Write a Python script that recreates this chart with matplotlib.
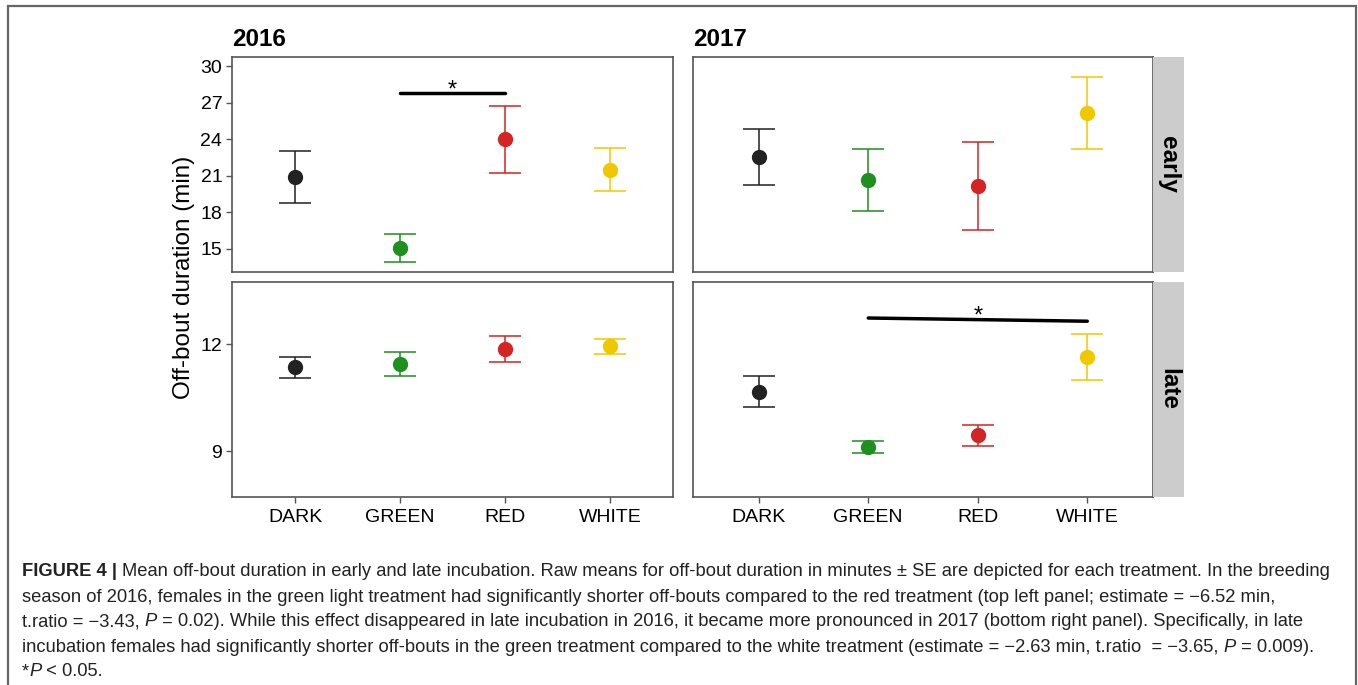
"""Mean off-bout duration per light treatment, early vs late incubation, 2016 / 2017."""

import matplotlib
matplotlib.use("Agg")
import matplotlib.pyplot as plt
from matplotlib.patches import Rectangle
from matplotlib.text import Annotation

W, H = 1358, 685
plt.rcParams["font.family"] = ["Liberation Sans", "DejaVu Sans"]

# ------------------------------------------------------------------
# Data (raw means +- SE)
# ------------------------------------------------------------------
treatments = ["DARK", "GREEN", "RED", "WHITE"]
colors = ["#222222", "#1f8f1f", "#d42424", "#f0c800"]

early_2016_mean = [20.93, 15.03, 24.02, 21.48]
early_2016_low = [18.74, 13.88, 21.26, 19.75]
early_2016_high = [23.06, 16.23, 26.72, 23.28]

early_2017_mean = [22.54, 20.66, 20.19, 26.12]
early_2017_low = [20.27, 18.14, 16.56, 23.20]
early_2017_high = [24.81, 23.20, 23.80, 29.07]

late_2016_mean = [11.35, 11.44, 11.86, 11.94]
late_2016_low = [11.05, 11.11, 11.50, 11.72]
late_2016_high = [11.64, 11.77, 12.22, 12.14]

late_2017_mean = [10.66, 9.11, 9.44, 11.64]
late_2017_low = [10.23, 8.94, 9.14, 11.00]
late_2017_high = [11.09, 9.29, 9.73, 12.29]

# significance bars: (x from, x to, y from, y to)
sig_early_2016 = ("GREEN", "RED", 27.76, 27.76)
sig_late_2017 = ("GREEN", "WHITE", 12.73, 12.64)

early_ticks = [15, 18, 21, 24, 27, 30]
late_ticks = [9, 12]

caption_lines = [
    [("FIGURE 4 | ", "bold"),
     ("Mean off-bout duration in early and late incubation. Raw means for off-bout duration "
      "in minutes \u00b1 SE are depicted for each treatment. In the breeding", "normal")],
    [("season of 2016, females in the green light treatment had significantly shorter off-bouts "
      "compared to the red treatment (top left panel; estimate = \u22126.52 min,", "normal")],
    [("t.ratio = \u22123.43, ", "normal"), ("P", "italic"),
     (" = 0.02). While this effect disappeared in late incubation in 2016, it became more "
      "pronounced in 2017 (bottom right panel). Specifically, in late", "normal")],
    [("incubation females had significantly shorter off-bouts in the green treatment compared "
      "to the white treatment (estimate = \u22122.63 min, t.ratio  = \u22123.65, ", "normal"),
     ("P", "italic"), (" = 0.009).", "normal")],
    [("*", "normal"), ("P", "italic"), (" < 0.05.", "normal")],
]

# ------------------------------------------------------------------
# Plot
# ------------------------------------------------------------------
fig = plt.figure(figsize=(W / 100, H / 100), dpi=100)

# outer frame of the figure (bottom edge runs off the page)
fig.patches.append(Rectangle((8 / W, -0.1), (1356 - 8) / W, 1.1 - 6 / H,
                             transform=fig.transFigure, fill=False,
                             edgecolor="#666666", linewidth=1.6))


def px_axes(x0, y0, x1, y1):
    return fig.add_axes([x0 / W, 1 - y1 / H, (x1 - x0) / W, (y1 - y0) / H])


def panel(ax, mean, low, high, ylim, ticks, show_x, show_y):
    x = list(range(len(treatments)))
    for i, c in enumerate(colors):
        ax.errorbar(x[i], mean[i],
                    yerr=[[mean[i] - low[i]], [high[i] - mean[i]]],
                    fmt="none", ecolor=c, elinewidth=1.3, capsize=11.5,
                    capthick=1.3, alpha=0.85, zorder=2)
        ax.plot(x[i], mean[i], "o", color=c, markersize=10, zorder=3)
    ax.set_xlim(-0.6, len(treatments) - 0.4)
    ax.set_ylim(*ylim)
    for s in ax.spines.values():
        s.set_color("#555555")
        s.set_linewidth(1.2)
    ax.tick_params(colors="#555555", labelcolor="black", length=4, width=1,
                   labelsize=14, pad=3)
    ax.set_yticks(ticks if show_y else [])
    ax.set_xticks(x if show_x else [])
    if show_x:
        ax.set_xticklabels(treatments)
        ax.tick_params(axis="x", pad=5)


def strip(x0, y0, x1, y1, label):
    sax = px_axes(x0, y0, x1, y1)
    sax.set_facecolor("#cccccc")
    for s in sax.spines.values():
        s.set_visible(False)
    sax.set_xticks([])
    sax.set_yticks([])
    sax.text(0.5, 0.5, label, rotation=-90, ha="center", va="center",
             fontsize=17.5, fontweight="bold", transform=sax.transAxes)


def sig_bar(ax, spec):
    a, b, y0, y1 = spec
    xa, xb = treatments.index(a), treatments.index(b)
    ax.plot([xa, xb], [y0, y1], color="black", linewidth=2.5,
            solid_capstyle="round", zorder=4)
    ax.annotate("*", xy=((xa + xb) / 2, (y0 + y1) / 2), xytext=(0, -8),
                textcoords="offset pixels", ha="center", va="bottom",
                fontsize=17)


early_lim = (13.1, 30.75)
late_lim = (7.71, 13.74)

ax_tl = px_axes(232, 57, 673, 272)
panel(ax_tl, early_2016_mean, early_2016_low, early_2016_high, early_lim, early_ticks, False, True)
sig_bar(ax_tl, sig_early_2016)

ax_tr = px_axes(693, 57, 1153, 272)
panel(ax_tr, early_2017_mean, early_2017_low, early_2017_high, early_lim, early_ticks, False, False)

ax_bl = px_axes(232, 282, 673, 497)
panel(ax_bl, late_2016_mean, late_2016_low, late_2016_high, late_lim, late_ticks, True, True)

ax_br = px_axes(693, 282, 1153, 497)
panel(ax_br, late_2017_mean, late_2017_low, late_2017_high, late_lim, late_ticks, True, False)
sig_bar(ax_br, sig_late_2017)

strip(1153, 57, 1184, 272, "early")
strip(1153, 282, 1184, 497, "late")

# year titles
fig.text(232 / W, 1 - 46 / H, "2016", fontsize=17.5, fontweight="bold", ha="left", va="baseline")
fig.text(693 / W, 1 - 46 / H, "2017", fontsize=17.5, fontweight="bold", ha="left", va="baseline")

fig.text(184 / W, 1 - 277 / H, "Off-bout duration (min)", rotation=90,
         ha="center", va="center", fontsize=17.5)

# ------------------------------------------------------------------
# Caption (mixed bold / italic pieces chained left to right)
# ------------------------------------------------------------------
cap_size = 13.2
line_y = [572, 597, 622, 647, 672]
for pieces, y in zip(caption_lines, line_y):
    last = None
    for txt, style in pieces:
        kw = dict(fontsize=cap_size, color="#222222")
        if style == "bold":
            kw["fontweight"] = "bold"
        elif style == "italic":
            kw["fontstyle"] = "italic"
        if last is None:
            last = fig.text(22 / W, 1 - y / H, txt, ha="left", va="center", **kw)
        else:
            last = fig.add_artist(Annotation(txt, xy=(1, 0), xycoords=last,
                                             ha="left", va="bottom", **kw))

plt.savefig("out.png", dpi=100)
